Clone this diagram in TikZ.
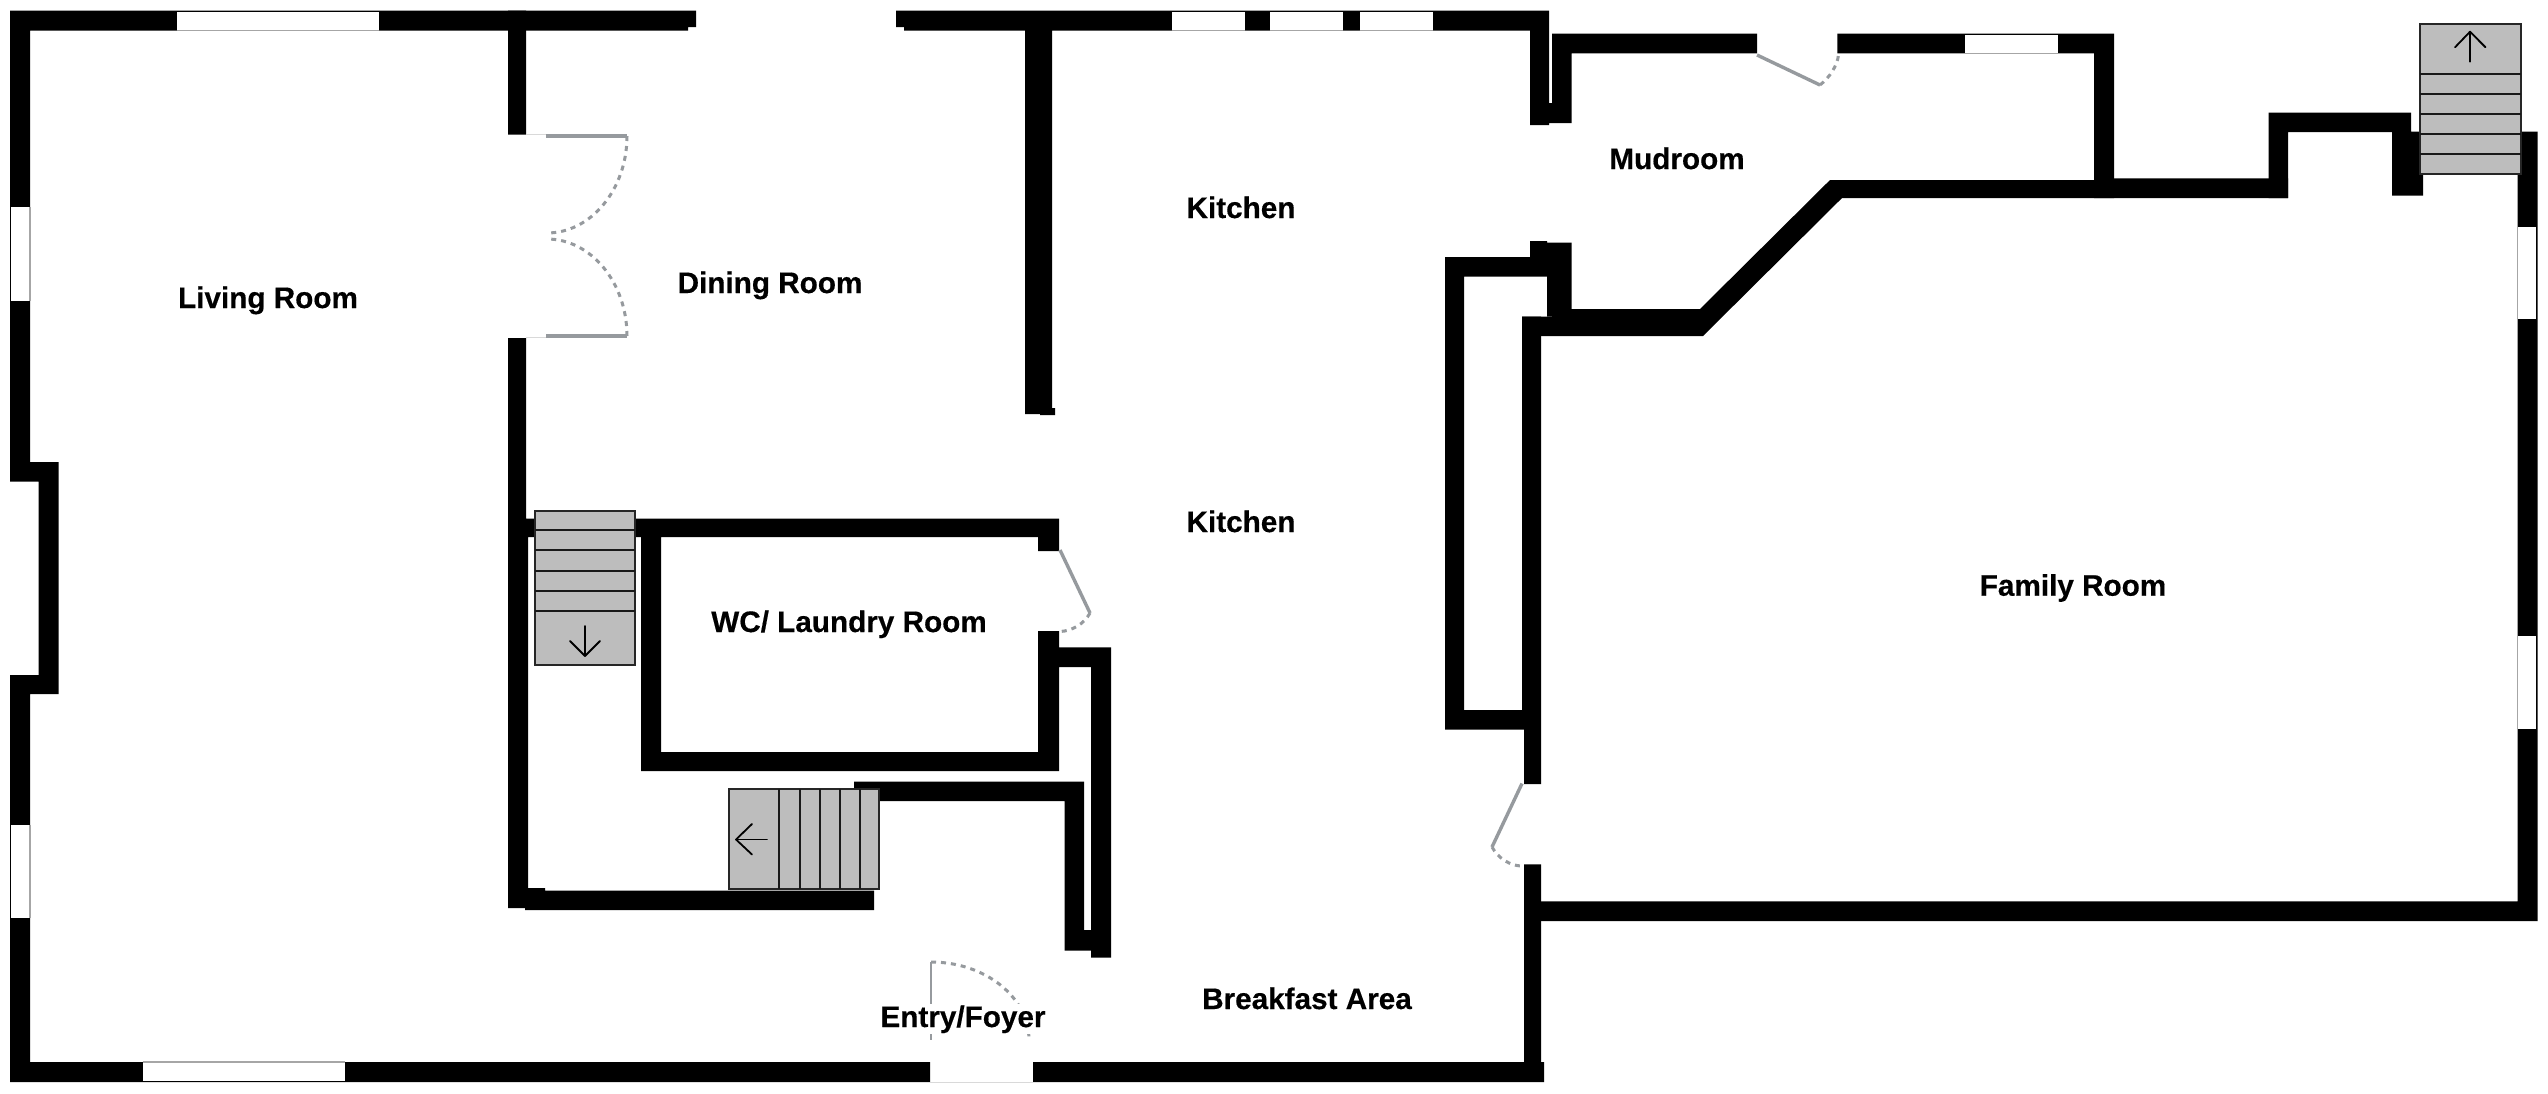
\documentclass[tikz,border=0pt]{standalone}
\usepackage{fontspec}
\setmainfont{Liberation Sans}[BoldFeatures={FakeBold=0.4}]
\begin{document}
\begin{tikzpicture}[x=1pt,y=-1pt,
  wall/.style={fill=black},
  winpane/.style={fill=white},
  winedge/.style={draw=black!35,line width=1.2pt},
  leaf/.style={draw=leafgray,line width=3.4pt},
  swing/.style={draw=leafgray,line width=3pt,dash pattern=on 5pt off 5pt},
  faint/.style={draw=black!15,line width=1pt},
  stair/.style={fill=stairgray,draw=black!85,line width=2pt},
  tread/.style={draw=black!90,line width=2pt},
  arrowline/.style={draw=black,line width=1.8pt,line cap=round,line join=round},
  room/.style={font=\bfseries\fontsize{29.7}{32}\selectfont,anchor=base,inner sep=0pt,text=black}
]
\definecolor{leafgray}{HTML}{969A9E}
\definecolor{stairgray}{HTML}{BDBDBD}
\useasboundingbox[fill=white] (0,0) rectangle (2548,1093);

% --- walls, left part
\fill[wall] (10,10.5) rectangle (696,27)
            (10,27) rectangle (688,30.5)
            (10,10.5) rectangle (30,481.6)
            (10,462) rectangle (58.5,481.6)
            (38.5,462) rectangle (58.5,694)
            (10,675) rectangle (58.5,694)
            (10,675) rectangle (30,1082)
            (10,1062) rectangle (930,1082)
            (1033,1062) rectangle (1544,1082);
\fill[wall] (508,10.5) rectangle (526,134.5)
            (508,338) rectangle (526,518.5)
            (508,518.5) rectangle (528,908)
            (525,890.5) rectangle (874,910)
            (528,888) rectangle (545,891)
            (508,518.5) rectangle (1059,537)
            (1038,518.5) rectangle (1059,551)
            (641,518.5) rectangle (661,771)
            (641,752) rectangle (1059,771)
            (1038,631) rectangle (1059,771)
            (1059,647.4) rectangle (1111,667)
            (1091,647.4) rectangle (1111,957.5)
            (854,781.6) rectangle (1084,801)
            (1064.6,781.6) rectangle (1084,950.6)
            (1064.6,930) rectangle (1091,950.6);
% --- walls, kitchen and mudroom
\fill[wall] (896,10.5) rectangle (1549,27)
            (904,27) rectangle (1549,30.5)
            (1025,10.5) rectangle (1052,414)
            (1040,408) rectangle (1055,415)
            (1530,10.5) rectangle (1549,125)
            (1552,33.5) rectangle (1571.5,123)
            (1549,103) rectangle (1552,123)
            (1552,33.5) rectangle (1757,53.4)
            (1837.4,33.5) rectangle (2114,53.4)
            (2094,33.5) rectangle (2114,198)
            (1530,241) rectangle (1547,276.6)
            (1445,257) rectangle (1549,276.6)
            (1547,242.5) rectangle (1571.5,316.6)
            (1445,257) rectangle (1464,729.5)
            (1445,710) rectangle (1524,729.5)
            (1522,316.6) rectangle (1541,729.5)
            (1524,725) rectangle (1541,784)
            (1524,864.4) rectangle (1541,1065);
% --- walls, family room
\fill[wall] (1522,316.6) -- (1552,316.6) -- (1552,309) -- (1700,309) -- (1830,180)
            -- (2114,180) -- (2114,178.3) -- (2288,178.3) -- (2288,198)
            -- (1842,198) -- (1703,336) -- (1522,336) -- cycle;
\fill[wall] (1541,901.4) rectangle (2537.5,921)
            (2517.6,131.7) rectangle (2537.5,921)
            (2268.6,112.7) rectangle (2288,198)
            (2268.6,112.7) rectangle (2411,132)
            (2392,131.7) rectangle (2423,195.7);

% --- windows
\foreach \xa/\ya/\xb/\yb in {177/11.6/379/30.5, 142.5/1062/345/1080.5,
   1172/11.6/1245/30.5, 1270/11.6/1343/30.5, 1359.5/11.6/1432.6/30.5,
   1965/34.7/2058/53.4}{
  \fill[winpane] (\xa,\ya) rectangle (\xb,\yb);
}
\foreach \xa/\ya/\xb/\yb in {11/207/30/301, 11/825/30/918,
   2517.6/226.7/2536/319.3, 2517.6/636/2536/729.3}{
  \fill[winpane] (\xa,\ya) rectangle (\xb,\yb);
}
\draw[winedge] (177,30.5) -- (379,30.5);
\draw[winedge] (142.5,1062) -- (345,1062);
\draw[winedge] (1172,30.5) -- (1245,30.5);
\draw[winedge] (1270,30.5) -- (1343,30.5);
\draw[winedge] (1359.5,30.5) -- (1432.6,30.5);
\draw[winedge] (1965,53.4) -- (2058,53.4);
\draw[winedge] (30,207) -- (30,301);
\draw[winedge] (30,825) -- (30,918);
\draw[winedge] (2517.6,226.7) -- (2517.6,319.3);
\draw[winedge] (2517.6,636) -- (2517.6,729.3);
\draw[faint] (930,1082) -- (1033,1082);

% --- doors
\draw[faint] (526,134.5) -- (546,134.5);
\draw[faint] (526,337) -- (546,337);
\draw[leaf] (546,136) -- (627,136);
\draw[leaf] (546,336) -- (627,336);
\draw[swing] (627,136) .. controls (627,189.6) and (590.7,233) .. (547,233);
\draw[swing] (627,336) .. controls (627,282.4) and (590.7,239) .. (547,239);
\draw[leaf] (1060,550) -- (1090,613);
\draw[swing] (1090,613) .. controls (1084,624) and (1072,631) .. (1060,631.5);
\draw[leaf] (1522,783.5) -- (1492,847);
\draw[swing] (1492,847) .. controls (1498,858) and (1510,866) .. (1522,866);
\draw[leaf] (1757,55) -- (1820,85);
\draw[swing] (1820,85) .. controls (1830,77) and (1837,66) .. (1838.5,55);
\draw[leaf,line width=2.4pt] (931,962) -- (931,1040);
\draw[swing] (931,962) .. controls (985,962) and (1029,997) .. (1029,1040);

% --- stairs
\draw[stair] (535,511) rectangle (635,665);
\foreach \yy in {530,550,571,591,611}{\draw[tread] (535,\yy) -- (635,\yy);}
\draw[arrowline] (585,626) -- (585,656);
\draw[arrowline] (570,641) -- (585,656) -- (600,641);

\draw[stair] (729,789) rectangle (879,889);
\foreach \xx in {779,799.5,819.5,839.6,859.5}{\draw[tread] (\xx,789) -- (\xx,889);}
\draw[arrowline] (767,839.5) -- (736,839.5);
\draw[arrowline] (752,824) -- (736,839.5) -- (752,854.5);

\draw[stair] (2419.5,24) rectangle (2520.7,174.3);
\foreach \yy in {74,94.3,114.3,134.3,154.3}{\draw[tread] (2419.5,\yy) -- (2520.7,\yy);}
\draw[arrowline] (2470,61.7) -- (2470,31.7);
\draw[arrowline] (2455,47.3) -- (2470,31.7) -- (2485.5,47.3);

% --- room labels
\node[room] (living) at (268,308) {Living Room};
\node[room] (dining) at (770,293) {Dining Room};
\node[room] (kitchena) at (1241,218) {Kitchen};
\node[room] (kitchenb) at (1241,532) {Kitchen};
\node[room] (mudroom) at (1677,169) {Mudroom};
\node[room] (wc) at (849,632) {WC/ Laundry Room};
\node[room] (family) at (2073,595.7) {Family Room};
\node[room] (breakfast) at (1307,1009) {Breakfast Area};
\node[room,fill=white,text height=23pt,text depth=6.5pt,inner xsep=1pt] (entry) at (963,1027) {Entry/Foyer};
\end{tikzpicture}
\end{document}
